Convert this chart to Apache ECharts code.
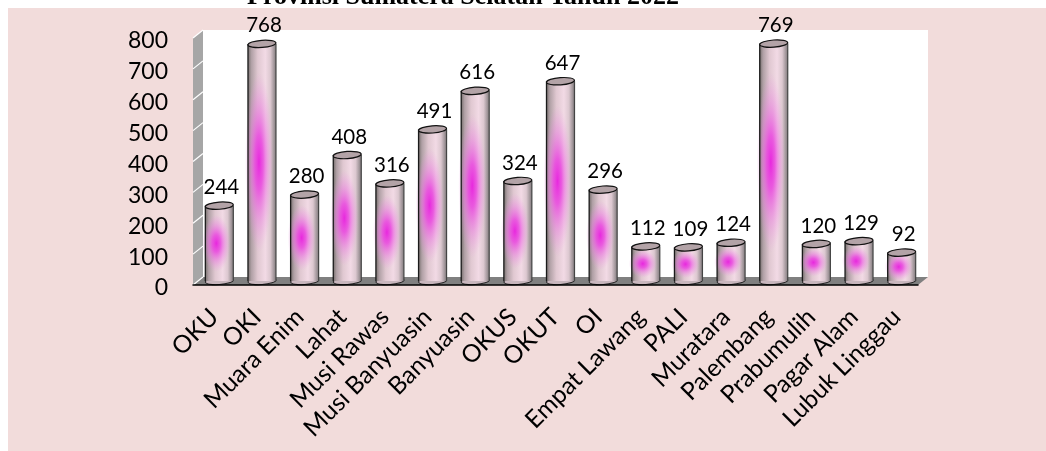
<!DOCTYPE html>
<html><head><meta charset="utf-8">
<style>html,body{margin:0;padding:0;background:#fff}#c{width:1046px;height:451px}</style>
<script src="https://cdn.jsdelivr.net/npm/echarts@6/dist/echarts.min.js"></script>
</head><body><div id="c"></div>
<script>
const categories = ['OKU','OKI','Muara Enim','Lahat','Musi Rawas','Musi Banyuasin','Banyuasin','OKUS','OKUT','OI','Empat Lawang','PALI','Muratara','Palembang','Prabumulih','Pagar Alam','Lubuk Linggau'];
const values = [244,768,280,408,316,491,616,324,647,296,112,109,124,769,120,129,92];
const titleText = 'Provinsi Sumatera Selatan Tahun 2022';
const yTicks = [0,100,200,300,400,500,600,700,800];
const depthX = 10, depthY = 8, barW = 28;
const FONT = 'Lato';

function renderDecor(params, api) {
  const cs = params.coordSys;
  const L = cs.x, R = cs.x + cs.width, B = cs.y + cs.height, T = cs.y;
  const kids = [
    {type:'polygon', shape:{points:[[L+depthX,T-depthY],[R+depthX,T-depthY],[R+depthX,B-depthY],[L+depthX,B-depthY]]}, style:{fill:'#fff'}},
    {type:'polygon', shape:{points:[[L,T],[L+depthX,T-depthY],[L+depthX,B-depthY],[L,B]]}, style:{fill:'#A6A6A6'}},
    {type:'polygon', shape:{points:[[L,B],[L+depthX,B-depthY],[R+depthX,B-depthY],[R,B]]}, style:{fill:'#808080'}}
  ];
  yTicks.forEach(v => {
    const y = api.coord([0, v])[1];
    kids.push({type:'line', shape:{x1:L,y1:y,x2:L+depthX,y2:y-depthY}, style:{stroke:'#fff', lineWidth:1.2}});
  });
  return {type:'group', children:kids};
}

function renderBar(params, api) {
  const i = api.value(0), v = api.value(1);
  const top = api.coord([i, v]), base = api.coord([i, 0]);
  const cx = top[0] + depthX/2, yT = top[1] - depthY/2, yB = base[1] - depthY/2;
  const h = yB - yT, x0 = cx - barW/2, rx = barW/2, ry = 3.6;
  const side = {type:'linear', x:0, y:0, x2:1, y2:0, colorStops:[
    {offset:0, color:'#78716f'},{offset:.12, color:'#b0a0a5'},{offset:.35, color:'#e0c8d1'},
    {offset:.62, color:'#f2dae5'},{offset:.8, color:'#dcc8d0'},{offset:1, color:'#827c7e'}]};
  const glowRy = Math.max(14, h * 0.38), glowR = 14;
  return {type:'group', children:[
    {type:'ellipse', x:cx, y:yB, rotation:0.07, shape:{cx:0, cy:0, rx:rx, ry:ry}, style:{fill:'#c8b6bd', stroke:'#222', lineWidth:1}},
    {type:'rect', shape:{x:x0, y:yT, width:barW, height:h}, style:{fill:side}},
    {type:'circle', x:cx-3, y:yT + h/2, scaleY:glowRy/glowR, shape:{cx:0, cy:0, r:glowR},
      style:{fill:{type:'radial', x:.5, y:.5, r:.5, colorStops:[
        {offset:0, color:'rgba(232,40,222,1)'},{offset:.3, color:'rgba(234,70,224,.85)'},
        {offset:.65, color:'rgba(236,120,226,.45)'},{offset:1, color:'rgba(236,150,226,0)'}]}}},
    {type:'line', shape:{x1:x0, y1:yT, x2:x0, y2:yB}, style:{stroke:'#1a1a1a', lineWidth:1.3}},
    {type:'line', shape:{x1:x0+barW, y1:yT, x2:x0+barW, y2:yB}, style:{stroke:'#444', lineWidth:1.2}},
    {type:'ellipse', x:cx, y:yT, rotation:0.07, shape:{cx:0, cy:0, rx:rx, ry:ry}, style:{fill:'#b3a3a7', stroke:'#111', lineWidth:1.2}},
    {type:'text', x:cx+2, y:yT-18, style:{text:String(v), fill:'#000', font:'20.5px '+FONT, align:'center', verticalAlign:'middle'}}
  ]};
}

const chart = echarts.init(document.getElementById('c'), null, {renderer:'canvas'});
chart.setOption({
  animation:false,
  backgroundColor:'#fff',
  graphic:[{type:'rect', z:-10, silent:true, shape:{x:8,y:8,width:1038,height:443}, style:{fill:'#F2DCDB'}}],
  title:{text:titleText, left:247, top:-16, padding:0, textStyle:{fontFamily:'Liberation Serif', fontWeight:'bold', fontSize:26, color:'#000'}},
  grid:{left:193, top:38, width:725, height:247},
  xAxis:{type:'category', data:categories,
    axisLine:{lineStyle:{color:'#000', width:1.5}}, axisTick:{length:8, lineStyle:{color:'#000'}},
    axisLabel:{interval:0, rotate:45, margin:28, fontFamily:FONT, fontSize:24.5, color:'#000'}, z:6},
  yAxis:{type:'value', min:0, max:800, interval:100,
    axisLine:{show:false}, axisTick:{show:false}, splitLine:{show:false},
    axisLabel:{margin:25, fontFamily:FONT, fontSize:23, color:'#000', verticalAlign:'top', lineHeight:6}},
  series:[
    {type:'custom', renderItem:renderDecor, data:[[0,0]], clip:false, silent:true, z:1},
    {type:'custom', renderItem:renderBar, data:values.map((v,i)=>[i,v]), encode:{x:0,y:1}, clip:false, z:3}
  ]
});
</script></body></html>
